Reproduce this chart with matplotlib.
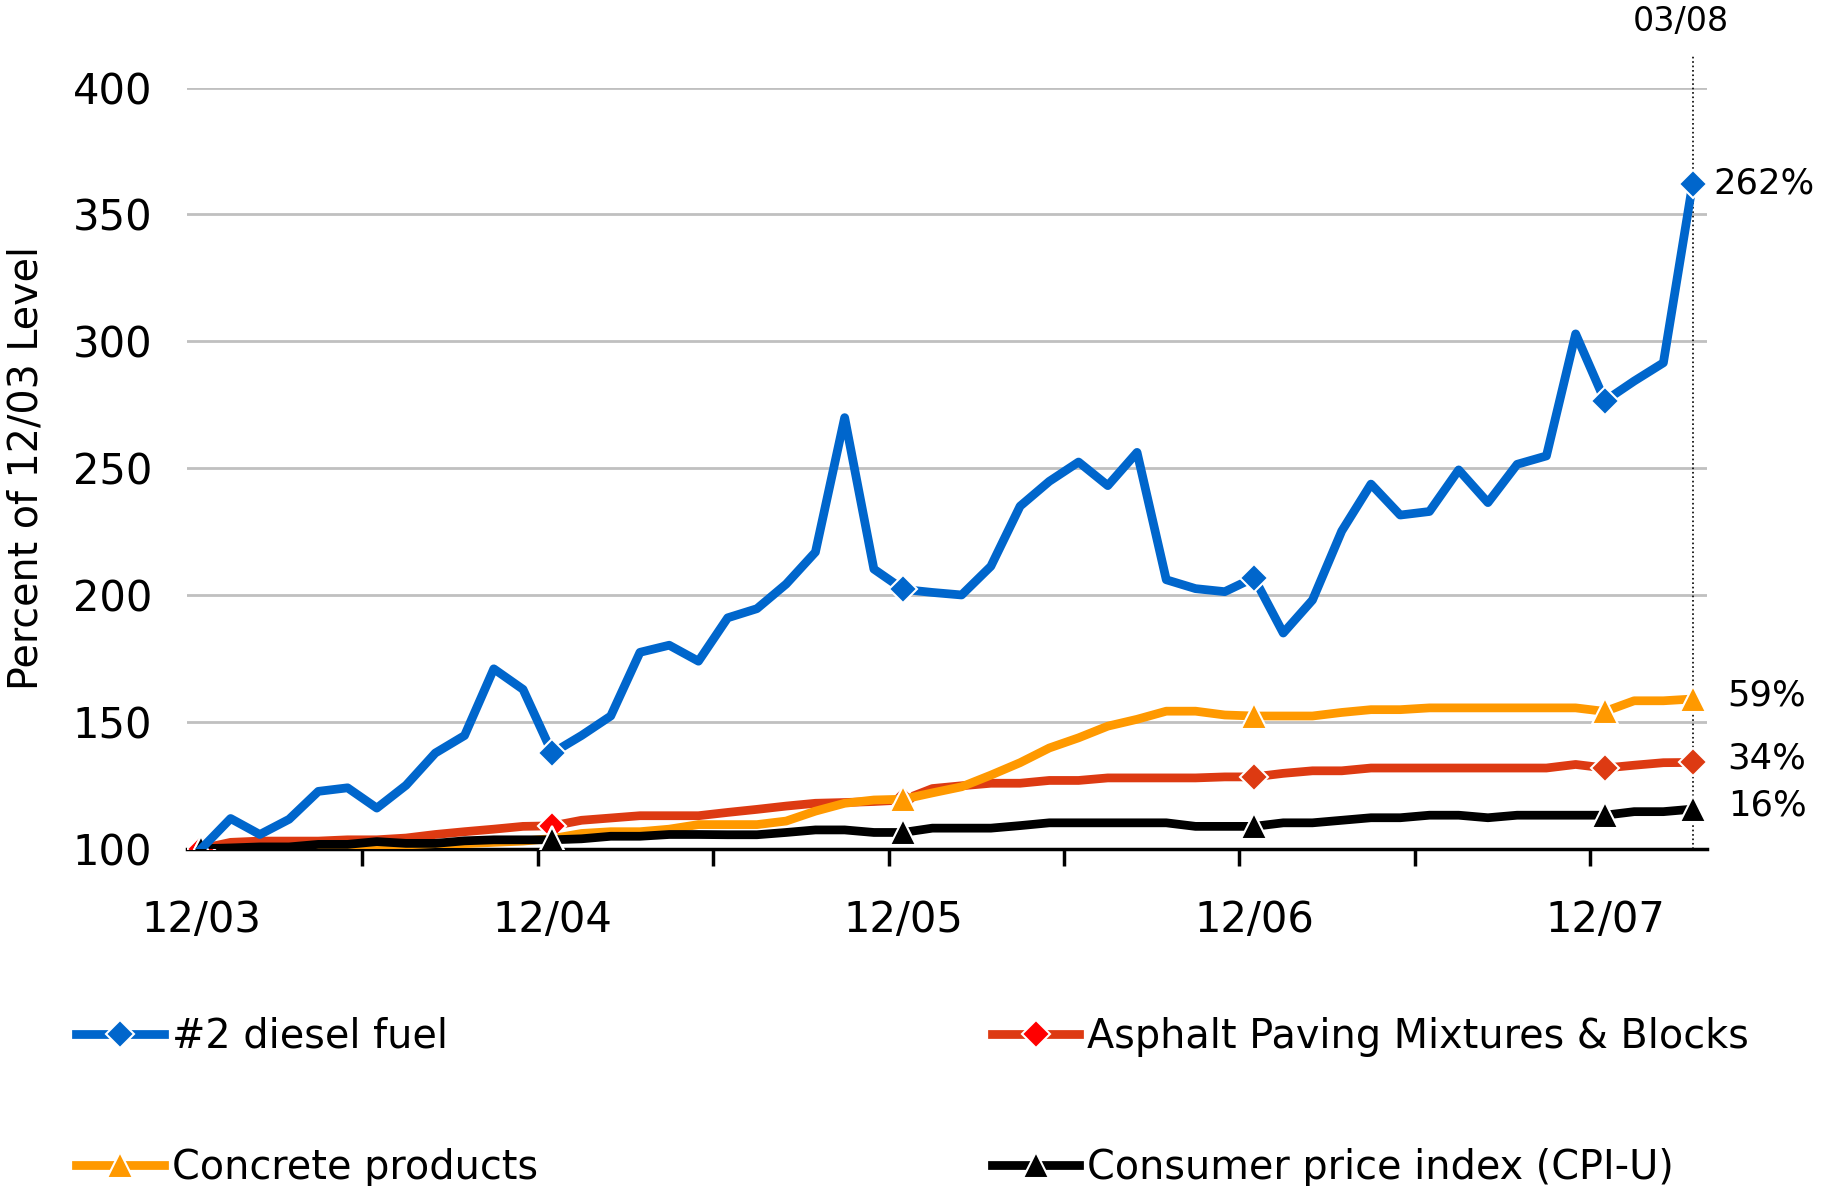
import numpy as np
import matplotlib.pyplot as plt
from matplotlib.lines import Line2D

plt.rcParams['font.family'] = ['DejaVu Sans']

# monthly index, 12/03 = 100 ... 03/08
months = np.arange(52)
tick_labels = ['12/03', '12/04', '12/05', '12/06', '12/07']
tick_pos = [0, 12, 24, 36, 48]

diesel = [100, 111.9, 105.6, 111.6, 122.6, 124, 116, 125, 137.7, 144.6, 170.9, 162.8,
          137.7, 144.6, 152.3, 177.4, 180.2, 173.9, 191, 194.6, 204.3, 216.9, 269.9, 210.2,
          202.2, 201, 200, 211.3, 235, 244.8, 252.4, 243.1, 256.2, 206, 202.5, 201.3,
          206.8, 185, 198, 225.2, 243.7, 231.5, 232.9, 249.3, 236.4, 251.5, 254.8, 302.9,
          276.5, 284.3, 291.5, 362]
asphalt = [100, 102.5, 103, 103, 103, 103.5, 103.5, 104.2, 105.6, 106.7, 107.7, 108.8,
           109, 111.2, 112.1, 113, 113, 113, 114.3, 115.5, 116.8, 117.9, 118.2, 118.6,
           119.2, 123.7, 124.8, 125.8, 125.8, 126.9, 126.9, 127.9, 127.9, 127.9, 127.9, 128.3,
           128.3, 129.7, 130.7, 130.7, 131.8, 131.8, 131.8, 131.8, 131.8, 131.8, 131.8, 133.2,
           131.8, 132.9, 133.9, 134]
concrete = [100, 99.5, 99.5, 100, 100.5, 101, 101.5, 101.5, 102, 102, 102.5, 103,
            104, 106, 106.7, 106.7, 107.7, 109.5, 109.5, 109.5, 110.9, 114.8, 117.9, 119.2,
            119.5, 122, 124.4, 129, 133.9, 139.7, 143.7, 148.3, 151, 154.2, 154.2, 152.7,
            152.3, 152.3, 152.3, 153.7, 154.8, 154.8, 155.5, 155.5, 155.5, 155.5, 155.5, 155.5,
            154.1, 158.3, 158.3, 159]
cpi = [100, 100.3, 100.7, 100.7, 101.7, 101.7, 102.8, 102.1, 102.1, 103.1, 103.5, 103.5,
       103.5, 103.9, 104.9, 104.9, 105.6, 105.6, 105.5, 105.5, 106.4, 107.4, 107.4, 106.4,
       106.4, 108.1, 108.1, 108.1, 109.1, 110.2, 110.2, 110.2, 110.2, 110.2, 108.8, 108.8,
       108.8, 110.2, 110.2, 111.2, 112.2, 112.2, 113.2, 113.2, 112.2, 113.2, 113.2, 113.2,
       113.2, 114.6, 114.6, 115.6]

end_labels = ['262%', '59%', '34%', '16%']
marks = [0, 12, 24, 36, 48, 51]

blue = '#0066CC'
red = '#DD3A12'
orange = '#FF9900'
lw = 6.3
dms = 14
tms = 19

fig = plt.figure(figsize=(18.31, 11.86), dpi=100)
ax = fig.add_axes([0.102, 0.2844, 0.8304, 0.6418])

ax.plot(months, asphalt, color=red, lw=lw, zorder=3, marker='D', ms=dms,
        markevery=[24, 36, 48, 51], mfc=red, mec='white', mew=1.5)
ax.plot(months[[0, 12]], np.array(asphalt)[[0, 12]], ls='none', marker='D', ms=dms,
        mfc='#FF0000', mec='white', mew=1.5, zorder=3)
ax.plot(months, concrete, color=orange, lw=lw, zorder=4, marker='^', ms=tms,
        markevery=marks, mfc=orange, mec='white', mew=1.5)
ax.plot(months, cpi, color='black', lw=lw, zorder=5, marker='^', ms=tms,
        markevery=marks, mfc='black', mec='white', mew=1.5)
ax.plot(months, diesel, color=blue, lw=lw, zorder=6, marker='D', ms=dms,
        markevery=[12, 24, 36, 48, 51], mfc=blue, mec='white', mew=1.5)

ax.set_xlim(-0.5, 51.5)
ax.set_ylim(100, 400)
ax.set_yticks(range(100, 401, 50))
ax.grid(axis='y', color='#C0C0C0', lw=2)
ax.set_axisbelow(True)
for s in ['top', 'right', 'left']:
    ax.spines[s].set_visible(False)
ax.spines['bottom'].set_linewidth(2.5)
ax.spines['bottom'].set_zorder(2)
ax.tick_params(axis='y', length=0, pad=25, labelsize=30)
ax.set_xticks(tick_pos)
ax.set_xticklabels(tick_labels)
ax.set_xticks(np.arange(5.5, 48, 6), minor=True)
ax.tick_params(axis='x', which='major', length=0, pad=36, labelsize=30)
ax.tick_params(axis='x', which='minor', length=12, width=2.5, color='black')
ax.set_ylabel('Percent of 12/03 Level', fontsize=28.5)
ax.yaxis.set_label_coords(-0.092, 0.5)

# current month marker
ax.plot([51, 51], [100, 412.5], color='black', lw=1.2, ls=':', clip_on=False, zorder=1)
ax.text(50.6, 426, '03/08', ha='center', va='center', fontsize=24)

ax.text(51.7, diesel[-1], end_labels[0], ha='left', va='center', fontsize=25.5)
ax.text(52.2, 160.3, end_labels[1], ha='left', va='center', fontsize=25.5)
ax.text(52.2, 135.4, end_labels[2], ha='left', va='center', fontsize=25.5)
ax.text(52.2, 117, end_labels[3], ha='left', va='center', fontsize=25.5)

def handle(c, m, fc, ms):
    return Line2D([], [], color=c, lw=lw, marker=m, ms=ms, mfc=fc, mec='white', mew=1.5)

h_diesel = handle(blue, 'D', blue, dms)
h_asph = handle(red, 'D', '#FF0000', dms)
h_conc = handle(orange, '^', orange, tms)
h_cpi = handle('black', '^', 'black', tms)

leg_kw = dict(frameon=False, fontsize=28.6, handlelength=2.2, handletextpad=0.2,
              labelspacing=2.3, loc='upper left', borderaxespad=0)
l1 = fig.legend([h_diesel, h_conc], ['#2 diesel fuel', 'Concrete products'],
                bbox_to_anchor=(0.033, 0.156), **leg_kw)
l2 = fig.legend([h_asph, h_cpi], ['Asphalt Paving Mixtures & Blocks', 'Consumer price index (CPI-U)'],
                bbox_to_anchor=(0.533, 0.156), **leg_kw)

plt.savefig('out.png', dpi=100)
